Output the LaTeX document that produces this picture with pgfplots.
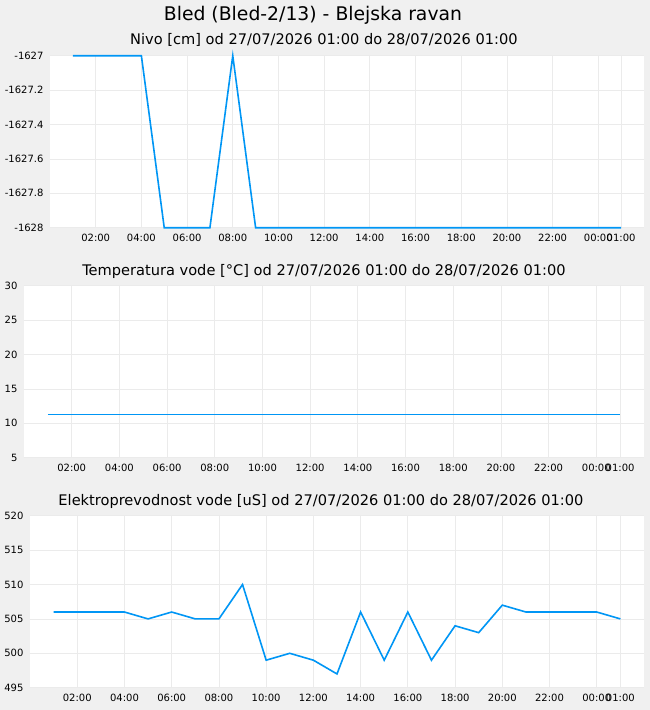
\documentclass[border=0pt]{standalone}
\usepackage{fontspec}
\setmainfont{DejaVu Sans}
\usepackage{pgfplots}
\pgfplotsset{compat=1.18}
\definecolor{bg}{HTML}{F0F0F0}
\definecolor{gridc}{HTML}{EBEBEB}
\definecolor{linec}{RGB}{0,150,245}
\pgfplotsset{
  panel/.style={
    scale only axis, height=172pt, anchor=north west,
    xmin=0, xmax=26,
    axis line style={draw=none}, tick style={draw=none},
    axis background/.style={fill=white},
    xmajorgrids, ymajorgrids, grid style={gridc, line width=0.8pt},
    xtick={2,4,6,8,10,12,14,16,18,20,22,24,25},
    xticklabels={02:00,04:00,06:00,08:00,10:00,12:00,14:00,16:00,18:00,20:00,22:00,00:00,01:00},
    ticklabel style={font=\fontsize{10}{12}\selectfont},
    /pgf/number format/assume math mode=true,
    xticklabel style={yshift=-2.5pt},
    yticklabel style={xshift=-3pt},
    clip=false,
    every axis plot post/.append style={color=linec, line width=1.6pt, mark=none},
  }
}
\begin{document}
\begin{tikzpicture}
\fill[bg] (0pt,0pt) rectangle (650pt,-710pt);
\node[anchor=base, font=\fontsize{18.8}{22}\selectfont] at (313pt,-20.7pt) {Bled (Bled-2/13) - Blejska ravan};
\node[anchor=base, font=\fontsize{14.6}{17}\selectfont] at (324pt,-44.5pt) {Nivo [cm] od 27/07/2026 01:00 do 28/07/2026 01:00};
\node[anchor=base, font=\fontsize{14.6}{17}\selectfont] at (324pt,-275pt) {Temperatura vode [°C] od 27/07/2026 01:00 do 28/07/2026 01:00};
\node[anchor=base, font=\fontsize{14.6}{17}\selectfont] at (321pt,-505.7pt) {Elektroprevodnost vode [uS] od 27/07/2026 01:00 do 28/07/2026 01:00};

\begin{axis}[panel, at={(50pt,-55.7pt)}, width=594pt,
  ymin=-1628, ymax=-1627,
  ytick={-1628,-1627.8,-1627.6,-1627.4,-1627.2,-1627},
  yticklabels={-1628,-1627.8,-1627.6,-1627.4,-1627.2,-1627}]
\addplot coordinates {(1,-1627) (2,-1627) (3,-1627) (4,-1627) (5,-1628) (6,-1628) (7,-1628) (8,-1627) (9,-1628) (10,-1628) (11,-1628) (12,-1628) (13,-1628) (14,-1628) (15,-1628) (16,-1628) (17,-1628) (18,-1628) (19,-1628) (20,-1628) (21,-1628) (22,-1628) (23,-1628) (24,-1628) (25,-1628)};
\end{axis}

\begin{axis}[panel, at={(24pt,-285.7pt)}, width=620pt,
  ymin=5, ymax=30, ytick={5,10,15,20,25,30}]
\addplot coordinates {(1,11.3) (2,11.3) (3,11.3) (4,11.3) (5,11.3) (6,11.3) (7,11.3) (8,11.3) (9,11.3) (10,11.3) (11,11.3) (12,11.3) (13,11.3) (14,11.3) (15,11.3) (16,11.3) (17,11.3) (18,11.3) (19,11.3) (20,11.3) (21,11.3) (22,11.3) (23,11.3) (24,11.3) (25,11.3)};
\end{axis}

\begin{axis}[panel, at={(30pt,-515.7pt)}, width=614pt,
  ymin=495, ymax=520, ytick={495,500,505,510,515,520}]
\addplot coordinates {(1,506) (2,506) (3,506) (4,506) (5,505) (6,506) (7,505) (8,505) (9,510) (10,499) (11,500) (12,499) (13,497) (14,506) (15,499) (16,506) (17,499) (18,504) (19,503) (20,507) (21,506) (22,506) (23,506) (24,506) (25,505)};
\end{axis}
\end{tikzpicture}
\end{document}
